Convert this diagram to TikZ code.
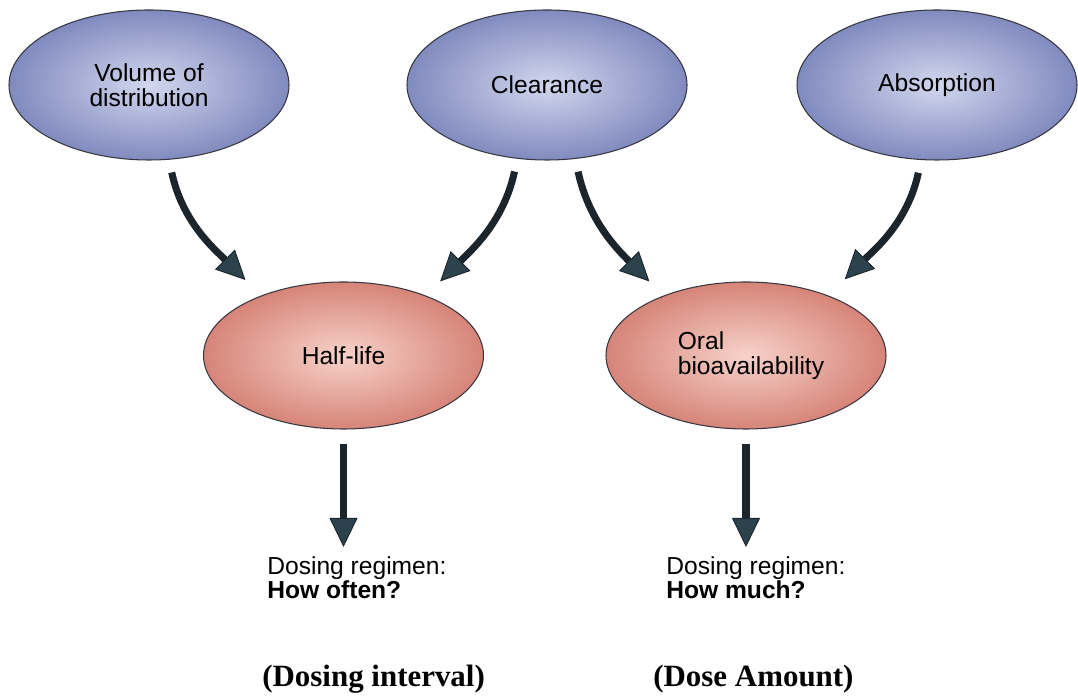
\documentclass[tikz,border=0pt]{standalone}
\usepackage{fontspec}
\setmainfont{Liberation Sans}
\newfontfamily\serifbold{Liberation Serif}
\usetikzlibrary{shapes.geometric,arrows.meta}
\definecolor{bluein}{RGB}{210,214,238}
\definecolor{blueout}{RGB}{128,138,190}
\definecolor{pinkin}{RGB}{247,210,202}
\definecolor{pinkout}{RGB}{214,132,120}
\definecolor{arrowdark}{RGB}{28,36,44}
\definecolor{headdark}{RGB}{44,66,76}
\definecolor{rimline}{RGB}{55,55,65}

\begin{document}
\begin{tikzpicture}[
    factor/.style={ellipse, draw=rimline, line width=0.6pt, inner color=bluein, outer color=blueout,
        minimum width=5.6cm, minimum height=3cm, inner sep=0pt, align=center,
        font=\fontsize{14}{14.2}\selectfont},
    outcome/.style={factor, inner color=pinkin, outer color=pinkout, minimum height=2.94cm},
    bigarrow/.style={line width=4pt, draw=arrowdark,
        -{Triangle[width=0.56cm, length=0.58cm, line width=0.5pt, fill=headdark]}},
    regimen/.style={anchor=north west, inner sep=0pt, align=left, font=\fontsize{14}{13.8}\selectfont},
    note/.style={anchor=base west, inner sep=0pt, font=\serifbold\bfseries\fontsize{17.6}{20}\selectfont}
]
    \useasboundingbox (0,0) rectangle (21.56,13.92);

    \node[factor] (vod) at (2.98, 12.22) {Volume of\\distribution};
    \node[factor] (clear) at (10.94, 12.22) {Clearance};
    \node[factor] (absorb) at (18.74, 12.22) {Absorption};

    \node[outcome] (half) at (6.87, 6.81) {Half-life};
    \node[outcome, align=left] (oral) at (14.92, 6.81) {\hspace*{0.2cm}Oral\\\hspace*{0.2cm}bioavailability};

    \node[regimen] (often) at (5.34, 2.80) {Dosing regimen:\\\textbf{How often?}};
    \node[regimen] (much) at (13.32, 2.80) {Dosing regimen:\\\textbf{How much?}};

    \node[note] (interval) at (5.24, 0.18) {(Dosing interval)};
    \node[note] (amount) at (13.06, 0.18) {(Dose Amount)};

    \draw[bigarrow, shorten <=0.26cm, shorten >=0.44cm] (vod.-75) to[out=-78, in=135] (half.144);
    \draw[bigarrow, shorten <=0.26cm, shorten >=0.40cm] (clear.-112) to[out=-102, in=45] (half.36);
    \draw[bigarrow, shorten <=0.26cm, shorten >=0.40cm] (clear.-69) to[out=-78, in=135] (oral.144);
    \draw[bigarrow, shorten <=0.26cm, shorten >=0.46cm] (absorb.-102) to[out=-102, in=45] (oral.36);

    \draw[bigarrow, shorten <=0.28cm, shorten >=0.18cm] (half.south) -- (half.south |- often.north);
    \draw[bigarrow, shorten <=0.28cm, shorten >=0.18cm] (oral.south) -- (oral.south |- much.north);
\end{tikzpicture}
\end{document}
